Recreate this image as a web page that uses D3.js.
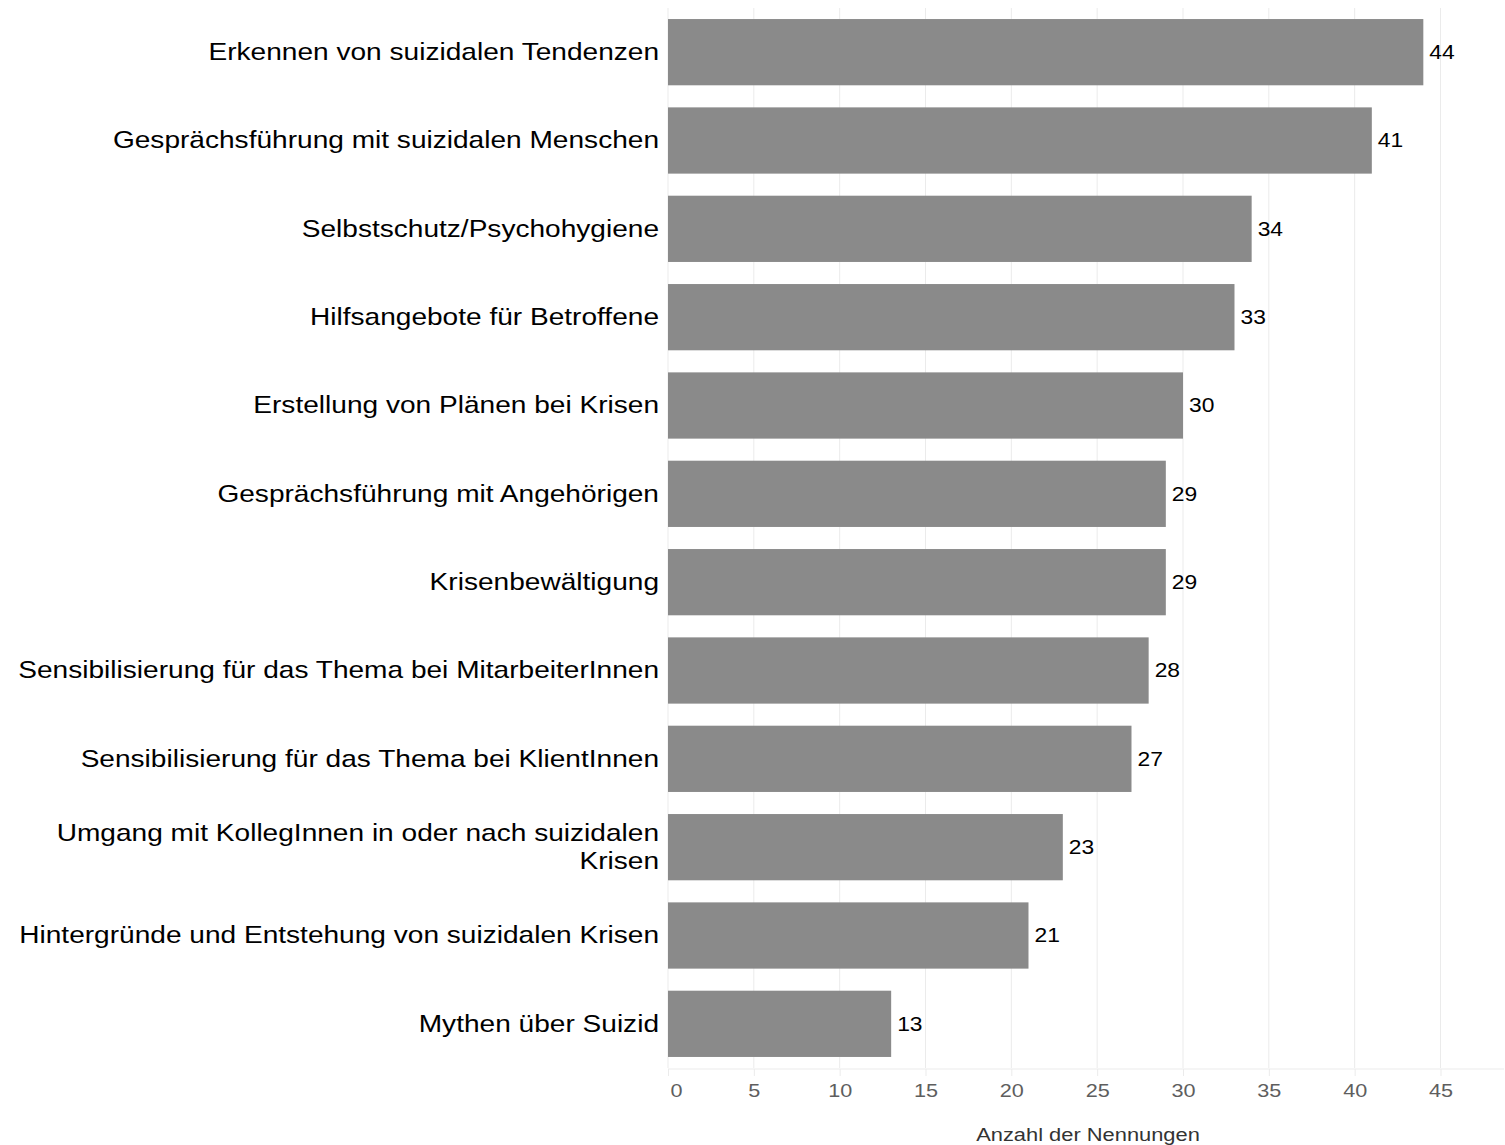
<!DOCTYPE html>
<html>
<head>
<meta charset="utf-8">
<script src="https://cdn.jsdelivr.net/npm/d3@7"></script>
<style>
  body { margin: 0; background: #fff; }
  text { font-family: "Liberation Sans", Arial, sans-serif; }
</style>
</head>
<body>
<div id="chart"></div>
<script>
// Themen und Anzahl der Nennungen (von oben nach unten)
const categories = [
  "Erkennen von suizidalen Tendenzen",
  "Gesprächsführung mit suizidalen Menschen",
  "Selbstschutz/Psychohygiene",
  "Hilfsangebote für Betroffene",
  "Erstellung von Plänen bei Krisen",
  "Gesprächsführung mit Angehörigen",
  "Krisenbewältigung",
  "Sensibilisierung für das Thema bei MitarbeiterInnen",
  "Sensibilisierung für das Thema bei KlientInnen",
  "Umgang mit KollegInnen in oder nach suizidalen|Krisen",
  "Hintergründe und Entstehung von suizidalen Krisen",
  "Mythen über Suizid"
];
const values = [44, 41, 34, 33, 30, 29, 29, 28, 27, 23, 21, 13];
const xTicks = [0, 5, 10, 15, 20, 25, 30, 35, 40, 45];
const xTitle = "Anzahl der Nennungen";

const width = 1505, height = 1145;
const mLeft = 668, mRight = 1504, mTop = 8, mBottom = 1068;
const sx = 1.17; // Schrift ist im Original horizontal gestreckt

const svg = d3.select("#chart")
  .append("svg")
  .attr("width", width)
  .attr("height", height);

const x = d3.scaleLinear()
  .domain([0, 48.7])
  .range([mLeft, mRight]);

const y = d3.scaleBand()
  .domain(categories)
  .range([mTop, mBottom])
  .paddingInner(0.25)
  .paddingOuter(0.125);

// Gitterlinien
svg.append("g")
  .selectAll("line")
  .data(xTicks)
  .join("line")
  .attr("x1", d => x(d))
  .attr("x2", d => x(d))
  .attr("y1", mTop)
  .attr("y2", mBottom)
  .attr("stroke", "#ebebeb")
  .attr("stroke-width", 1);

// Balken
svg.append("g")
  .selectAll("rect")
  .data(categories)
  .join("rect")
  .attr("x", x(0))
  .attr("y", d => y(d))
  .attr("width", (d, i) => x(values[i]) - x(0))
  .attr("height", y.bandwidth())
  .attr("fill", "#8a8a8a");

// Werte neben den Balken
svg.append("g")
  .selectAll("text")
  .data(categories)
  .join("text")
  .attr("transform", (d, i) => "translate(" + (x(values[i]) + 6) + "," + (y(d) + y.bandwidth() / 2) + ") scale(" + sx + ",1)")
  .attr("dy", "0.35em")
  .attr("font-size", 19.5)
  .attr("fill", "#000")
  .text((d, i) => values[i]);

// x-Achse
const xAxis = svg.append("g")
  .attr("transform", "translate(0," + (mBottom + 1) + ")")
  .call(d3.axisBottom(x).tickValues(xTicks).tickSize(7).tickPadding(8));
xAxis.select(".domain")
  .attr("stroke", "#ebebeb")
  .attr("d", "M" + mLeft + ",0H" + mRight);
xAxis.selectAll(".tick line").attr("stroke", "#ebebeb");
xAxis.selectAll(".tick text")
  .attr("font-size", 18.5)
  .attr("fill", "#5e5e5e")
  .attr("font-family", "Liberation Sans, Arial, sans-serif")
  .attr("transform", d => (d === 0 ? "translate(8,0) " : "") + "scale(" + sx + ",1)");

// y-Achse (Kategorien)
const yLabels = svg.append("g")
  .selectAll("text")
  .data(categories)
  .join("text")
  .attr("transform", d => "translate(" + (mLeft - 9) + "," + (y(d) + y.bandwidth() / 2) + ") scale(" + sx + ",1)")
  .attr("text-anchor", "end")
  .attr("font-size", 24)
  .attr("fill", "#000");

yLabels.each(function(d) {
  const lines = d.split("|");
  const t = d3.select(this);
  lines.forEach((l, i) => {
    t.append("tspan")
      .attr("x", 0)
      .attr("dy", i === 0 ? (0.32 - (lines.length - 1) * 0.585) + "em" : "1.17em")
      .text(l);
  });
});

// Achsentitel
svg.append("text")
  .attr("transform", "translate(1088,1141) scale(" + sx + ",1)")
  .attr("text-anchor", "middle")
  .attr("font-size", 18.7)
  .attr("fill", "#333")
  .text(xTitle);
</script>
</body>
</html>
